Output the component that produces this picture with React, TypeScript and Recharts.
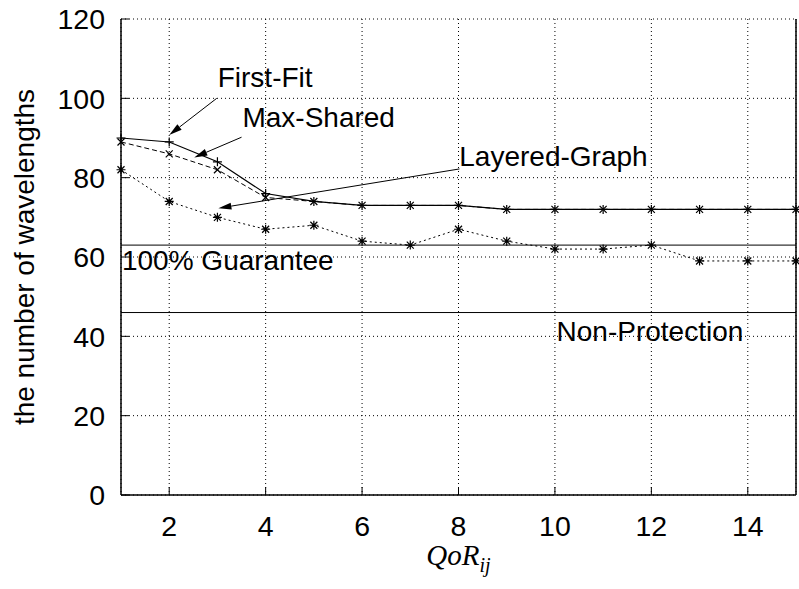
import React from 'react'
import {
  LineChart, Line, XAxis, YAxis, CartesianGrid, ReferenceLine, ReferenceDot, Label,
} from 'recharts'

const qor = [1, 2, 3, 4, 5, 6, 7, 8, 9, 10, 11, 12, 13, 14, 15]
const firstFit = [90, 89, 84, 76, 74, 73, 73, 73, 72, 72, 72, 72, 72, 72, 72]
const maxShared = [89, 86, 82, 75, 74, 73, 73, 73, 72, 72, 72, 72, 72, 72, 72]
const layeredGraph = [82, 74, 70, 67, 68, 64, 63, 67, 64, 62, 62, 63, 59, 59, 59]

const guarantee = 63
const nonProtection = 46

const xTicks = [2, 4, 6, 8, 10, 12, 14]
const yTicks = [0, 20, 40, 60, 80, 100, 120]

// annotation text, anchored in data coordinates
const notes = [
  { text: 'First-Fit', x: 3.99, y: 105.4, anchor: 'middle' },
  { text: 'Max-Shared', x: 5.1, y: 95.4, anchor: 'middle' },
  { text: 'Layered-Graph', x: 9.97, y: 85.6, anchor: 'middle' },
  { text: '100% Guarantee', x: 1.02, y: 59.3, anchor: 'start' },
  { text: 'Non-Protection', x: 11.97, y: 41.3, anchor: 'middle' },
]

// arrows: from label tail to the curve
const arrows = [
  [{ x: 2.985, y: 100 }, { x: 2.0, y: 90.75 }],
  [{ x: 3.5, y: 90.2 }, { x: 2.52, y: 85.1 }],
  [{ x: 8.02, y: 82.2 }, { x: 3.02, y: 72.3 }],
]

const data = qor.map((q, i) => ({
  q,
  firstFit: firstFit[i],
  maxShared: maxShared[i],
  layered: layeredGraph[i],
}))

const FONT = '"Liberation Sans", Arial, Helvetica, sans-serif'
const FS = 28
const FS_TICK = 28.5
const TICK = 8

function Plus({ cx, cy }: any) {
  return <path d={`M${cx - 4.5},${cy}h9M${cx},${cy - 4.5}v9`} stroke="#000" strokeWidth={1.2} fill="none" />
}
function Cross({ cx, cy }: any) {
  return <path d={`M${cx - 3.5},${cy - 3.5}l7,7M${cx - 3.5},${cy + 3.5}l7,-7`} stroke="#000" strokeWidth={1.2} fill="none" />
}
function Star({ cx, cy }: any) {
  return (
    <path
      d={`M${cx - 4.5},${cy}h9M${cx},${cy - 4.5}v9M${cx - 3.5},${cy - 3.5}l7,7M${cx - 3.5},${cy + 3.5}l7,-7`}
      stroke="#000" strokeWidth={1.2} fill="none"
    />
  )
}

function Arrow(props: any) {
  const { x1, y1, x2, y2 } = props
  const a = Math.atan2(y2 - y1, x2 - x1)
  const len = 13, hw = 3.5
  const bx = x2 - len * Math.cos(a)
  const by = y2 - len * Math.sin(a)
  const px = -Math.sin(a) * hw
  const py = Math.cos(a) * hw
  return (
    <g>
      <line x1={x1} y1={y1} x2={bx} y2={by} stroke="#000" strokeWidth={1} />
      <polygon points={`${x2},${y2} ${bx + px},${by + py} ${bx - px},${by - py}`} fill="#000" />
    </g>
  )
}

const M_X = 20
const M_Y = 16

function BottomTick({ x, y, payload }: any) {
  const ay = y - M_X
  return (
    <g>
      <line x1={x} y1={ay} x2={x} y2={ay - TICK} stroke="#000" strokeWidth={1} />
      <text x={x} y={y} dy="0.72em" textAnchor="middle" fontFamily={FONT} fontSize={FS_TICK} fill="#000">
        {payload.value}
      </text>
    </g>
  )
}
function LeftTick({ x, y, payload }: any) {
  const ax = x + M_Y
  return (
    <g>
      <line x1={ax} y1={y} x2={ax + TICK} y2={y} stroke="#000" strokeWidth={1} />
      <text x={x} y={y} dy="0.36em" textAnchor="end" fontFamily={FONT} fontSize={FS_TICK} fill="#000">
        {payload.value}
      </text>
    </g>
  )
}
function TopTick({ x, y }: any) {
  return <line x1={x} y1={y} x2={x} y2={y + TICK} stroke="#000" strokeWidth={1} />
}
function RightTick({ x, y }: any) {
  return <line x1={x} y1={y} x2={x - TICK} y2={y} stroke="#000" strokeWidth={1} />
}

export default function App() {
  return (
    <div style={{ width: 799, height: 589, background: '#fff' }}>
      <style>{'body{margin:0}'}</style>
      <LineChart width={799} height={589} data={data} margin={{ top: 19, right: 0, bottom: 0, left: 0 }}>
        <CartesianGrid stroke="#000" strokeDasharray="1 3" strokeWidth={1} />
        <XAxis
          dataKey="q" type="number" domain={[1, 15]} ticks={xTicks} height={94}
          tickSize={0} tickMargin={M_X} tick={<BottomTick />}
          axisLine={{ stroke: '#000', strokeWidth: 1.5 }} tickLine={false}
        >
          <Label
            content={({ viewBox }: any) => (
              <text
                x={viewBox.x + viewBox.width / 2} y={viewBox.y + 70} textAnchor="middle"
                fontFamily='"Liberation Serif", "Times New Roman", serif' fontStyle="italic" fontSize={29} fill="#000"
              >
                QoR<tspan fontSize={20} dy={7}>ij</tspan>
              </text>
            )}
          />
        </XAxis>
        <XAxis
          xAxisId="top" orientation="top" dataKey="q" type="number" domain={[1, 15]} ticks={xTicks} height={0}
          tickSize={0} tickMargin={0} tick={<TopTick />}
          axisLine={{ stroke: '#000', strokeWidth: 1.5 }} tickLine={false}
        />
        <YAxis
          type="number" domain={[0, 120]} ticks={yTicks} width={121}
          tickSize={0} tickMargin={M_Y} tick={<LeftTick />}
          axisLine={{ stroke: '#000', strokeWidth: 1.5 }} tickLine={false}
        >
          <Label
            content={({ viewBox }: any) => {
              const cx = viewBox.x + 24
              const cy = viewBox.y + viewBox.height / 2
              return (
                <text
                  x={cx} y={cy} dy="0.36em" textAnchor="middle" transform={`rotate(-90 ${cx} ${cy})`}
                  fontFamily={FONT} fontSize={FS} fill="#000"
                >
                  the number of wavelengths
                </text>
              )
            }}
          />
        </YAxis>
        <YAxis
          yAxisId="right" orientation="right" type="number" domain={[0, 120]} ticks={yTicks} width={3}
          tickSize={0} tickMargin={0} tick={<RightTick />}
          axisLine={{ stroke: '#000', strokeWidth: 1.5 }} tickLine={false}
        />

        <ReferenceLine y={guarantee} stroke="#000" strokeWidth={1} />
        <ReferenceLine y={nonProtection} stroke="#000" strokeWidth={1} />

        <Line
          dataKey="layered" stroke="#000" strokeWidth={1} strokeDasharray="2 3"
          dot={(p: any) => <Star key={p.index} {...p} />} isAnimationActive={false}
        />
        <Line
          dataKey="maxShared" stroke="#000" strokeWidth={1} strokeDasharray="5 3"
          dot={(p: any) => <Cross key={p.index} {...p} />} isAnimationActive={false}
        />
        <Line
          dataKey="firstFit" stroke="#000" strokeWidth={1.2}
          dot={(p: any) => <Plus key={p.index} {...p} />} isAnimationActive={false}
        />

        {arrows.map((seg, i) => (
          <ReferenceLine key={`a${i}`} segment={seg} shape={(p: any) => <Arrow {...p} />} />
        ))}
        {notes.map((n) => (
          <ReferenceDot
            key={n.text} x={n.x} y={n.y} r={0}
            shape={(p: any) => (
              <text
                x={p.cx} y={p.cy} dy="0.36em" textAnchor={n.anchor as any}
                fontFamily={FONT} fontSize={FS} fill="#000"
              >
                {n.text}
              </text>
            )}
          />
        ))}
      </LineChart>
    </div>
  )
}
